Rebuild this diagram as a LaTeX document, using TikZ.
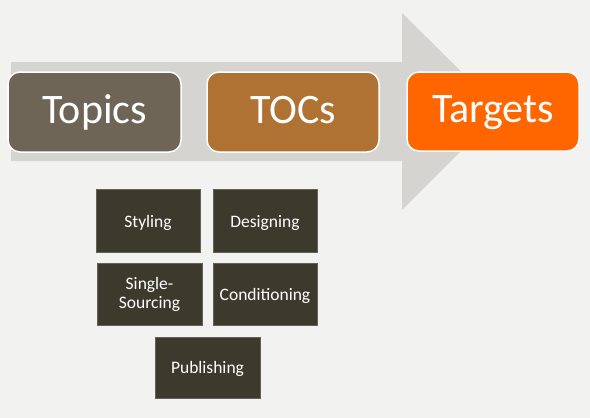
\documentclass[tikz,border=0pt]{standalone}
\usepackage{fontspec}
\setmainfont{Carlito}
\definecolor{bgc}{HTML}{F2F2F1}
\definecolor{arrowc}{HTML}{D5D4D0}
\definecolor{topicsc}{HTML}{6E6557}
\definecolor{tocsc}{HTML}{B07232}
\definecolor{targetsc}{HTML}{FF6600}
\definecolor{taskc}{HTML}{3C3A2C}
\begin{document}
\begin{tikzpicture}[x=1pt,y=-1pt,
  stage/.style={draw=white,line width=1.5pt,rounded corners=12pt},
  stagetext/.style={anchor=base,inner sep=0pt,text=white,
    font=\fontsize{42}{46}\selectfont},
  task/.style={fill=taskc,draw=taskc!80!white,line width=0.6pt,inner sep=0pt},
  tasktext/.style={anchor=base,inner sep=0pt,text=white,align=center,
    font=\fontsize{17.5}{18.5}\selectfont}]
  % canvas
  \fill[bgc] (0,0) rectangle (590,418);
  \useasboundingbox (0,0) rectangle (590,418);
  % block arrow behind the stages
  \fill[arrowc] (11,62) -- (402,62) -- (402,13) -- (501,111) -- (402,210)
    -- (402,161) -- (11,161) -- cycle;
  % stages
  \path[stage,fill=topicsc] (8,72) rectangle (181,152);
  \node[stagetext] (topics) at (94.5,123) {Topics};
  \path[stage,fill=tocsc] (207,72) rectangle (379,152);
  \node[stagetext] (tocs) at (293,123) {TOCs};
  \path[stage,fill=targetsc] (407,72) rectangle (579,151);
  \node[stagetext] (targets) at (493,122.5) {Targets};
  % activities
  \node[task,minimum width=104pt,minimum height=63pt] (styling) at (148,220.5) {};
  \node[tasktext] (stylingtext) at (148,227) {Styling};
  \node[task,minimum width=104pt,minimum height=63pt] (designing) at (265,220.5) {};
  \node[tasktext] (designingtext) at (265,227) {Designing};
  \node[task,minimum width=105pt,minimum height=62pt] (single) at (149.5,294) {};
  \node[tasktext] (singletext) at (149.5,308) {Single-\\Sourcing};
  \node[task,minimum width=104pt,minimum height=62pt] (conditioning) at (265,294) {};
  \node[tasktext] (conditioningtext) at (265,300) {Conditioning};
  \node[task,minimum width=105pt,minimum height=61pt] (publishing) at (207.5,367.5) {};
  \node[tasktext] (publishingtext) at (207.5,373) {Publishing};
\end{tikzpicture}
\end{document}
